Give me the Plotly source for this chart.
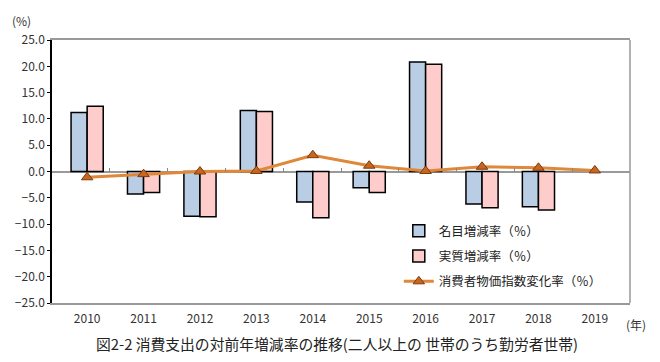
import plotly.graph_objects as go

years = ["2010", "2011", "2012", "2013", "2014", "2015", "2016", "2017", "2018", "2019"]
nominal = [11.2, -4.3, -8.5, 11.6, -5.8, -3.1, 20.8, -6.2, -6.7, None]
real = [12.4, -4.0, -8.6, 11.4, -8.8, -4.0, 20.4, -6.9, -7.3, None]
cpi = [-1.1, -0.5, 0.0, 0.1, 3.1, 1.1, 0.1, 0.9, 0.7, 0.2]
y_ticks = [-25, -20, -15, -10, -5, 0, 5, 10, 15, 20, 25]
names = ["名目増減率（％）", "実質増減率（％）", "消費者物価指数変化率（％）"]

FONT = "Noto Sans CJK JP, Noto Sans, sans-serif"

fig = go.Figure()
fig.add_trace(go.Bar(x=years, y=nominal, name=names[0], legendgroup="a",
                     marker=dict(color="#B9CDE5", line=dict(color="#000000", width=1.5))))
fig.add_trace(go.Bar(x=years, y=real, name=names[1], legendgroup="b",
                     marker=dict(color="#FFCCCC", line=dict(color="#000000", width=1.5))))
fig.add_trace(go.Scatter(x=years, y=cpi, name=names[2], mode="lines+markers", legendgroup="c",
                         line=dict(color="#E0883A", width=3),
                         marker=dict(symbol="triangle-up", size=10, color="#C8661E",
                                     line=dict(color="#7A3A10", width=1))))

# invisible trace to activate the zero-line tick axis
fig.add_trace(go.Scatter(x=[0], y=[0], xaxis="x2", mode="markers",
                         marker=dict(opacity=0), showlegend=False, hoverinfo="skip"))

fig.update_layout(
    width=660, height=362,
    paper_bgcolor="white", plot_bgcolor="white",
    margin=dict(l=52, r=30, t=40, b=59),
    bargap=0.43, bargroupgap=0.0,
    font=dict(family=FONT, size=12, color="#222222"),
    xaxis=dict(type="category", showline=True, linecolor="#999999", linewidth=1.5,
               mirror=True, ticks="", showgrid=False, automargin=False,
               ticklabelstandoff=4,
               tickfont=dict(size=12, color="#333333")),
    xaxis2=dict(overlaying="x", anchor="free", position=0.5, side="bottom",
                range=[-0.5, 9.5], showline=False, showgrid=False, zeroline=False,
                tickvals=[0.5, 1.5, 2.5, 3.5, 4.5, 5.5, 6.5, 7.5, 8.5],
                ticks="inside", ticklen=4, tickcolor="#888888",
                showticklabels=False, automargin=False),
    yaxis=dict(range=[-25, 25], tickvals=y_ticks, tickformat=".1f",
               showline=True, linecolor="#000000", linewidth=1.5,
               ticks="outside", ticklen=3, tickcolor="#000000", automargin=False,
               showgrid=False, zeroline=True, zerolinecolor="#999999", zerolinewidth=1.5,
               tickfont=dict(size=12, color="#333333")),
    legend=dict(x=0.6, y=0.33, xanchor="left", yanchor="top",
                bgcolor="rgba(0,0,0,0)", font=dict(size=12.5, color="#222222"),
                tracegroupgap=6, itemwidth=30),
    shapes=[
        dict(type="line", xref="paper", yref="paper", x0=1, x1=1, y0=0, y1=1,
             line=dict(color="#999999", width=1.5), layer="below"),
    ],
    annotations=[
        dict(text="(%)", x=-0.052, y=1.076, xref="paper", yref="paper", showarrow=False,
             xanchor="center", yanchor="middle",
             font=dict(size=12, color="#333333")),
        dict(text="(年)", x=1.01, y=0, xref="paper", yref="paper", showarrow=False,
             xanchor="center", yanchor="middle", yshift=-21,
             font=dict(size=12, color="#333333")),
        dict(text="図2-2 消費支出の対前年増減率の推移(二人以上の 世帯のうち勤労者世帯)",
             x=0.493, y=0, xref="paper", yref="paper", showarrow=False,
             xanchor="center", yanchor="middle", yshift=-40,
             font=dict(size=14.8, color="#222222")),
    ],
)

fig.write_html("out.html", config={"displayModeBar": False},
               post_script="document.body.style.margin='0';")
